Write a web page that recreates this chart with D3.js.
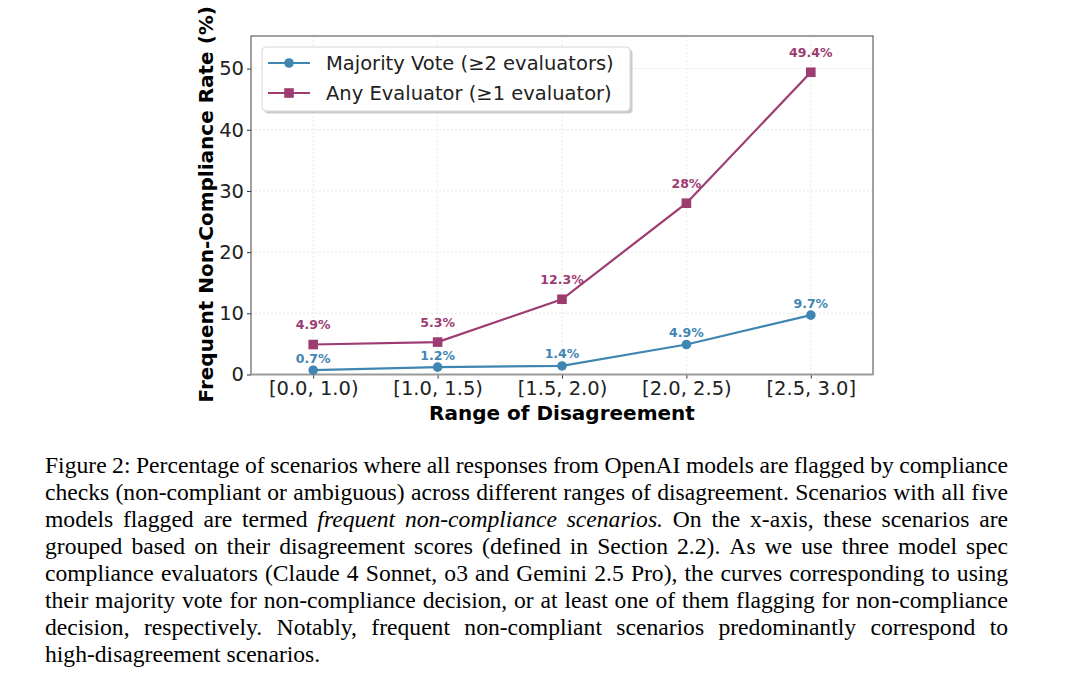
<!DOCTYPE html>
<html>
<head>
<meta charset="utf-8">
<script src="https://cdn.jsdelivr.net/npm/d3@7"></script>
<style>
  body { margin: 0; background: #fff; }
  svg { display: block; }
</style>
</head>
<body>
<svg id="fig" width="1080" height="691"></svg>
<script>
// chart data
const categories = ['[0.0, 1.0)', '[1.0, 1.5)', '[1.5, 2.0)', '[2.0, 2.5)', '[2.5, 3.0]'];
const majorityVote = [0.7, 1.2, 1.4, 4.9, 9.7];
const anyEvaluator = [4.9, 5.3, 12.3, 28, 49.4];
const yTicks = [0, 10, 20, 30, 40, 50];
const seriesNames = ['Majority Vote (≥2 evaluators)', 'Any Evaluator (≥1 evaluator)'];

const captionLines = [
    'Figure 2: Percentage of scenarios where all responses from OpenAI models are flagged by compliance',
    'checks (non-compliant or ambiguous) across different ranges of disagreement. Scenarios with all five',
    'models flagged are termed _frequent _non-compliance _scenarios. On the x-axis, these scenarios are',
    'grouped based on their disagreement scores (defined in Section 2.2). As we use three model spec',
    'compliance evaluators (Claude 4 Sonnet, o3 and Gemini 2.5 Pro), the curves corresponding to using',
    'their majority vote for non-compliance decision, or at least one of them flagging for non-compliance',
    'decision, respectively. Notably, frequent non-compliant scenarios predominantly correspond to',
    'high-disagreement scenarios.'
];

const BLUE = '#3f86b2';
const PURPLE = '#9c3c70';
const FONT = 'DejaVu Sans, sans-serif';

const svg = d3.select('#fig');

const plot = {left: 251, right: 873, top: 36, bottom: 374.5};

const x = d3.scaleLinear()
    .domain([-0.5, categories.length - 0.5])
    .range([plot.left, plot.right]);

const y = d3.scaleLinear()
    .domain([0, d3.max(anyEvaluator) * 1.12])
    .range([plot.bottom, plot.top]);

// grid
const grid = svg.append('g');
grid.selectAll('line.gx').data(categories).enter()
    .append('line')
        .attr('x1', (d, i) => x(i)).attr('x2', (d, i) => x(i))
        .attr('y1', plot.top).attr('y2', plot.bottom)
        .attr('stroke', '#ccc').attr('stroke-width', 0.8)
        .attr('stroke-dasharray', '2,2').attr('opacity', 0.5);
grid.selectAll('line.gy').data(yTicks.slice(1)).enter()
    .append('line')
        .attr('x1', plot.left).attr('x2', plot.right)
        .attr('y1', d => y(d)).attr('y2', d => y(d))
        .attr('stroke', '#ccc').attr('stroke-width', 0.8)
        .attr('stroke-dasharray', '2,2').attr('opacity', 0.5);

// axes
const yAxis = svg.append('g')
    .attr('transform', `translate(${plot.left},0)`)
    .call(d3.axisLeft(y).tickValues(yTicks).tickSize(4).tickPadding(3));
const xAxis = svg.append('g')
    .attr('transform', `translate(0,${plot.bottom})`)
    .call(d3.axisBottom(x).tickValues(d3.range(categories.length))
        .tickFormat(i => categories[i]).tickSize(4).tickPadding(3));

[xAxis, yAxis].forEach(a => {
    a.selectAll('.domain').remove();
    a.selectAll('.tick line').attr('stroke', '#333');
    a.selectAll('.tick text')
        .attr('font-family', FONT)
        .attr('font-size', '19.5px')
        .attr('fill', '#222');
});

// spines
svg.append('rect')
    .attr('x', plot.left).attr('y', plot.top)
    .attr('width', plot.right - plot.left).attr('height', plot.bottom - plot.top)
    .attr('fill', 'none').attr('stroke', '#444').attr('stroke-width', 1);
svg.append('line')
    .attr('x1', plot.left).attr('x2', plot.right)
    .attr('y1', plot.bottom).attr('y2', plot.bottom)
    .attr('stroke', '#9a9a9a').attr('stroke-width', 2);

// axis labels
svg.append('text')
    .attr('x', (plot.left + plot.right) / 2).attr('y', 419.5)
    .attr('text-anchor', 'middle')
    .attr('font-family', FONT).attr('font-weight', 'bold').attr('font-size', '20px')
    .text('Range of Disagreement');
svg.append('text')
    .attr('transform', `translate(213,${(plot.top + plot.bottom) / 2 - 1}) rotate(-90)`)
    .attr('text-anchor', 'middle')
    .attr('font-family', FONT).attr('font-weight', 'bold').attr('font-size', '20px')
    .text('Frequent Non-Compliance Rate (%)');

// lines
const line = d3.line().x((d, i) => x(i)).y(d => y(d));

svg.append('path').datum(majorityVote)
    .attr('d', line).attr('fill', 'none')
    .attr('stroke', BLUE).attr('stroke-width', 2.2);
svg.append('path').datum(anyEvaluator)
    .attr('d', line).attr('fill', 'none')
    .attr('stroke', PURPLE).attr('stroke-width', 2.2);

svg.selectAll('circle.mv').data(majorityVote).enter()
    .append('circle')
        .attr('cx', (d, i) => x(i)).attr('cy', d => y(d))
        .attr('r', 4.8).attr('fill', BLUE);
svg.selectAll('rect.ae').data(anyEvaluator).enter()
    .append('rect')
        .attr('x', (d, i) => x(i) - 4.8).attr('y', d => y(d) - 4.8)
        .attr('width', 9.6).attr('height', 9.6).attr('fill', PURPLE);

// value labels
svg.selectAll('text.mvl').data(majorityVote).enter()
    .append('text')
        .attr('x', (d, i) => x(i)).attr('y', d => y(d) - 7.5)
        .attr('text-anchor', 'middle')
        .attr('font-family', FONT).attr('font-weight', 'bold').attr('font-size', '12.5px')
        .attr('fill', BLUE)
        .text(d => d + '%');
svg.selectAll('text.ael').data(anyEvaluator).enter()
    .append('text')
        .attr('x', (d, i) => x(i)).attr('y', d => y(d) - 15.5)
        .attr('text-anchor', 'middle')
        .attr('font-family', FONT).attr('font-weight', 'bold').attr('font-size', '12.5px')
        .attr('fill', PURPLE)
        .text(d => d + '%');

// legend
const legend = svg.append('g').attr('transform', 'translate(262,47)');
legend.append('rect')
    .attr('x', 2.5).attr('y', 2.5).attr('width', 368).attr('height', 64)
    .attr('rx', 4).attr('fill', '#aaa').attr('opacity', 0.6);
legend.append('rect')
    .attr('width', 368).attr('height', 64)
    .attr('rx', 4).attr('fill', '#fff').attr('stroke', '#d8d8d8');
[[BLUE, 'circle'], [PURPLE, 'square']].forEach((s, i) => {
    const cy = 16 + i * 30;
    legend.append('line')
        .attr('x1', 6).attr('x2', 48).attr('y1', cy).attr('y2', cy)
        .attr('stroke', s[0]).attr('stroke-width', 2.2);
    if (s[1] === 'circle') {
        legend.append('circle').attr('cx', 27).attr('cy', cy).attr('r', 4.8).attr('fill', s[0]);
    } else {
        legend.append('rect').attr('x', 22.2).attr('y', cy - 4.8)
            .attr('width', 9.6).attr('height', 9.6).attr('fill', s[0]);
    }
    legend.append('text')
        .attr('x', 64).attr('y', cy + 7)
        .attr('font-family', FONT).attr('font-size', '19.5px').attr('fill', '#222')
        .text(seriesNames[i]);
});

// caption, justified word by word
const capLeft = 45, capRight = 1008, capTop = 472.5, capStep = 27;
const capFont = '23.6px';
captionLines.forEach((ln, li) => {
    const words = ln.split(' ').map(w => w.startsWith('_')
        ? {t: w.slice(1), it: true} : {t: w, it: false});
    const nodes = words.map(w => svg.append('text')
        .attr('y', capTop + li * capStep)
        .attr('font-family', 'Liberation Serif, Times New Roman, serif')
        .attr('font-size', capFont)
        .attr('font-style', w.it ? 'italic' : 'normal')
        .attr('fill', '#000')
        .text(w.t));
    const widths = nodes.map(n => n.node().getComputedTextLength());
    const total = d3.sum(widths);
    let gap = 5.9;
    if (li < captionLines.length - 1) {
        gap = (capRight - capLeft - total) / (words.length - 1);
    }
    let cx = capLeft;
    nodes.forEach((n, k) => {
        n.attr('x', cx);
        cx += widths[k] + gap;
    });
});
</script>
</body>
</html>
